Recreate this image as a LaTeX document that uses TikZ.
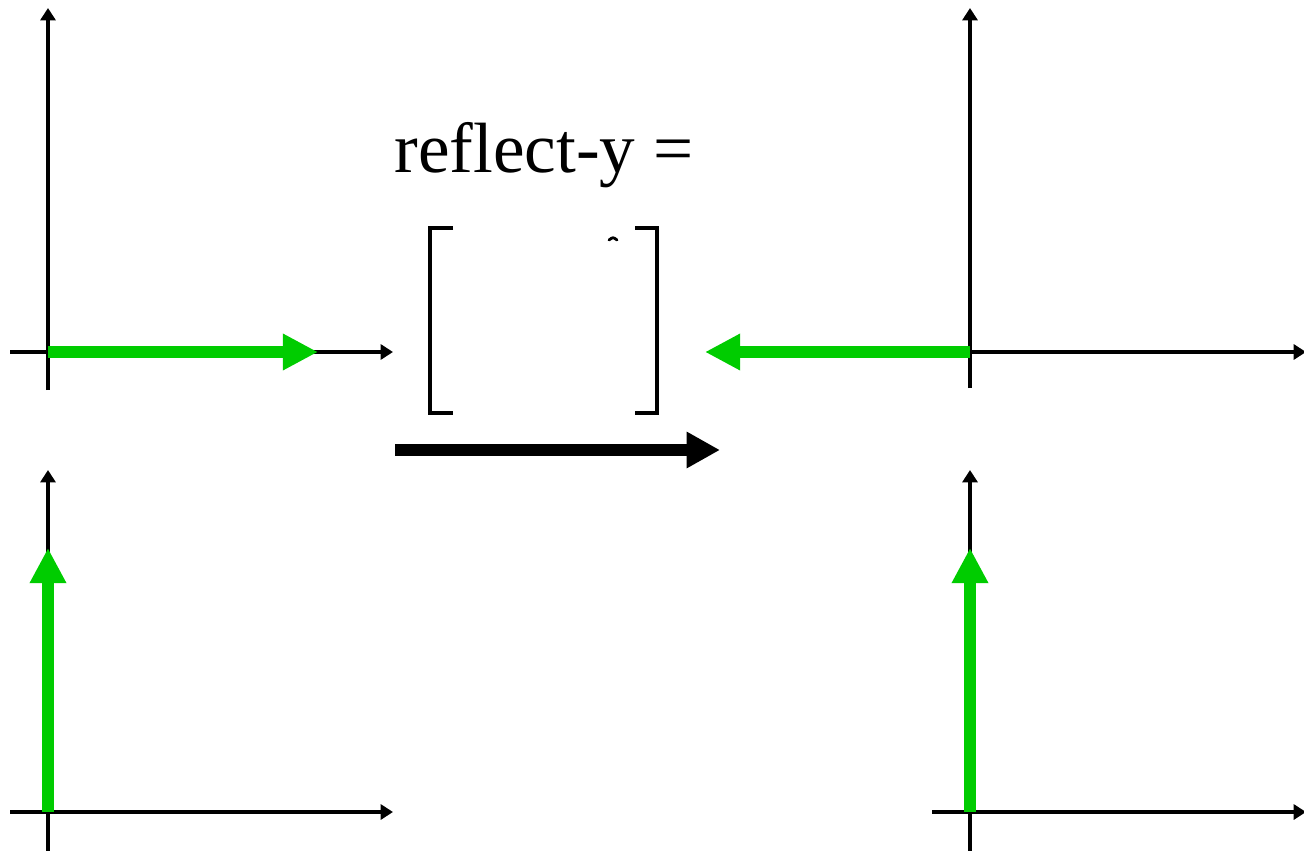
\documentclass[tikz,border=0pt]{standalone}
\usepackage{fontspec}
\setmainfont{Liberation Serif}
\usepackage{tikz}
\usetikzlibrary{positioning,arrows.meta}
\definecolor{vecgreen}{RGB}{0,204,0}

\begin{document}
\begin{tikzpicture}[x=0.02cm, y=-0.02cm,
  axis/.style={line width=2.1pt, -{Triangle[length=7pt,width=8.5pt]}},
  vec/.style={vecgreen, line width=6.5pt, -{Triangle[length=20pt,width=19.5pt]}},
  bigarrow/.style={line width=7.2pt, -{Triangle[length=19pt,width=19.5pt]}},
  bracket/.style={line width=2pt}]
\useasboundingbox (0,0) rectangle (1304,851);

% Axes before (top)
\coordinate (o1) at (48,352);
\coordinate (x1a) at (10,352);
\coordinate (x1b) at (393,352);
\coordinate (y1a) at (48,390);
\coordinate (y1b) at (48,8);
\draw[axis] (x1a) -- (x1b);
\draw[axis] (y1a) -- (y1b);

% Axes after (top)
\coordinate (o2) at (970,352);
\coordinate (x2a) at (930,352);
\coordinate (x2b) at (1306,352);
\coordinate (y2a) at (970,388);
\coordinate (y2b) at (970,8);
\draw[axis] (x2a) -- (x2b);
\draw[axis] (y2a) -- (y2b);

% Axes before (bottom)
\coordinate (o3) at (48,812);
\coordinate (x3a) at (10,812);
\coordinate (x3b) at (393,812);
\coordinate (y3a) at (48,851);
\coordinate (y3b) at (48,470);
\draw[axis] (x3a) -- (x3b);
\draw[axis] (y3a) -- (y3b);

% Axes after (bottom)
\coordinate (o4) at (970,812);
\coordinate (x4a) at (932,812);
\coordinate (x4b) at (1306,812);
\coordinate (y4a) at (970,851);
\coordinate (y4b) at (970,470);
\draw[axis] (x4a) -- (x4b);
\draw[axis] (y4a) -- (y4b);

% Vectors
\coordinate (v1) at (318,352);
\coordinate (v2) at (705,352);
\coordinate (v3) at (48,548);
\coordinate (v4) at (970,548);
\draw[vec] (o1) -- (v1);
\draw[vec] (o2) -- (v2);
\draw[vec] (o3) -- (v3);
\draw[vec] (o4) -- (v4);

% Label and matrix
\node (title) at (544,155) {\fontsize{40.5}{48}\selectfont reflect-y =};
\draw[bracket] (453,228) -- (430,228) -- (430,413) -- (453,413);
\draw[bracket] (635,228) -- (657,228) -- (657,413) -- (635,413);
\draw[line width=1.6pt, line cap=round] (609,240) .. controls (613,237) .. (617,240);

% Transform arrow
\coordinate (ta) at (395,450);
\coordinate (tb) at (720,450);
\draw[bigarrow] (ta) -- (tb);
\end{tikzpicture}
\end{document}
